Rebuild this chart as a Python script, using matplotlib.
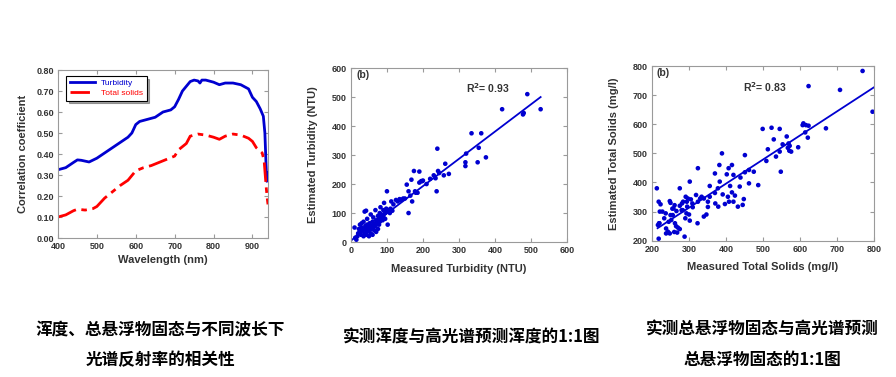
import matplotlib.pyplot as plt
import numpy as np

plt.rcParams['font.family'] = ['Liberation Sans', 'DejaVu Sans']

# correlation curves
wl_turb = [400, 420, 440, 450, 460, 480, 500, 520, 540, 560, 580, 590, 600, 610, 630, 650,
           670, 690, 700, 710, 720, 740, 750, 760, 765, 770, 780, 800, 815, 830, 850, 870,
           890, 900, 910, 920, 928, 932, 935, 937, 940]
r_turb = [0.325, 0.335, 0.36, 0.372, 0.37, 0.362, 0.38, 0.405, 0.43, 0.455, 0.48, 0.50,
          0.54, 0.555, 0.565, 0.575, 0.60, 0.61, 0.625, 0.66, 0.70, 0.745, 0.752, 0.748,
          0.738, 0.752, 0.752, 0.742, 0.73, 0.738, 0.738, 0.73, 0.71, 0.67, 0.65, 0.615,
          0.58, 0.50, 0.35, 0.27, 0.31]
wl_ts = [400, 420, 440, 450, 470, 490, 500, 520, 540, 560, 580, 600, 620, 640, 660, 680,
         700, 710, 730, 740, 760, 780, 800, 815, 830, 850, 870, 890, 900, 910, 925, 930,
         935, 938, 940]
r_ts = [0.10, 0.11, 0.13, 0.137, 0.133, 0.14, 0.15, 0.19, 0.22, 0.25, 0.275, 0.32, 0.335,
        0.345, 0.36, 0.375, 0.39, 0.42, 0.45, 0.485, 0.495, 0.49, 0.48, 0.47, 0.485, 0.495,
        0.49, 0.475, 0.46, 0.43, 0.405, 0.37, 0.25, 0.19, 0.16]

# turbidity scatter (measured, estimated)
turb_meas = [10, 12, 15, 18, 20, 22, 25, 25, 28, 30, 30, 32, 35, 35, 38, 38, 40, 40, 42, 42,
             45, 45, 45, 48, 50, 50, 52, 55, 55, 55, 58, 60, 60, 62, 62, 65, 65, 68, 68, 70,
             70, 72, 75, 75, 78, 78, 80, 80, 82, 85, 85, 88, 90, 90, 92, 95, 95, 98, 100, 100,
             102, 105, 108, 110, 112, 115, 118, 125, 130, 135, 140, 145, 150, 155, 160, 160,
             165, 168, 170, 175, 178, 180, 185, 190, 190, 195, 198, 200, 210, 220, 230, 235,
             238, 240, 242, 245, 258, 262, 272, 320, 318, 318, 335, 352, 355, 362, 375, 420,
             478, 480, 490, 527]
turb_est = [50, 15, 8, 20, 30, 45, 60, 35, 25, 50, 65, 40, 20, 70, 30, 105, 55, 45, 108, 25,
            35, 60, 80, 50, 40, 20, 65, 30, 55, 95, 45, 25, 70, 50, 85, 40, 60, 55, 110, 35,
            75, 65, 45, 90, 60, 80, 70, 100, 120, 85, 95, 75, 90, 110, 135, 80, 100, 115, 105, 175,
            60, 110, 100, 115, 140, 108, 130, 145, 140, 148, 145, 150, 150, 198, 100, 175,
            160, 215, 140, 245, 175, 170, 170, 205, 243, 210, 210, 212, 200, 218, 230, 220,
            175, 322, 245, 238, 230, 270, 235, 305, 275, 262, 375, 275, 325, 375, 292, 458,
            440, 445, 510, 458]
turb_fit_x = [0, 527]
turb_fit_y = [5, 500]

# total solids scatter (measured, estimated)
ts_meas = [769, 623, 708, 796, 670, 609, 616, 623, 607, 621, 614, 595, 569, 572, 567, 571,
           576, 564, 553, 545, 523, 499, 529, 545, 535, 548, 509, 513, 487, 475, 462, 451,
           451, 462, 448, 445, 437, 439, 420, 416, 407, 389, 402, 382, 370, 411, 416, 420,
           432, 424, 405, 408, 383, 391, 397, 379, 371, 378, 370, 356, 356, 351, 351, 347,
           340, 340, 330, 334, 324, 324, 323, 319, 309, 302, 295, 291, 297, 294, 305, 302,
           293, 290, 283, 288, 275, 284, 281, 275, 266, 260, 265, 270, 262, 275, 268, 258,
           261, 256, 250, 252, 248, 250, 237, 233, 238, 238, 243, 248, 216, 219, 221, 223,
           213, 218, 220, 218, 228, 245, 255, 300, 310, 280]
ts_est = [783, 731, 718, 643, 586, 603, 597, 595, 597, 554, 572, 521, 534, 526, 519, 509,
          506, 558, 531, 584, 588, 584, 548, 506, 489, 437, 474, 514, 391, 437, 443, 494,
          435, 397, 343, 323, 386, 417, 426, 460, 449, 500, 428, 460, 431, 388, 366, 334,
          317, 355, 351, 334, 403, 359, 326, 317, 328, 380, 364, 351, 388, 334, 316, 290,
          283, 345, 345, 351, 449, 334, 260, 357, 328, 403, 317, 351, 345, 334, 342, 269,
          294, 277, 305, 214, 380, 334, 328, 320, 302, 230, 250, 245, 260, 240, 228, 311,
          322, 288, 288, 271, 336, 330, 294, 277, 242, 225, 231, 225, 254, 260, 300, 325,
          380, 334, 260, 207, 300, 265, 310, 290, 315, 305]
ts_fit_x = [215, 800]
ts_fit_y = [243, 727]

spine_c = '#9a9a9a'
tick_c = '#333333'
blue = '#0000d0'


def style_axes(ax):
    for s in ax.spines.values():
        s.set_color(spine_c)
        s.set_linewidth(0.8)
    ax.tick_params(direction='in', length=3, color=spine_c, top=True, right=True,
                   labelsize=6.5, labelcolor=tick_c, pad=3)
    for lab in ax.get_xticklabels() + ax.get_yticklabels():
        lab.set_fontweight('bold')


fig = plt.figure(figsize=(8.96, 3.77), dpi=100)

# left: correlation curves
ax1 = fig.add_axes([0.0647, 0.3687, 0.2344, 0.4456])
ax1.plot(wl_turb, r_turb, color=blue, lw=2, label='Turbidity')
ax1.plot(wl_ts, r_ts, color='red', lw=2, dashes=(7, 2, 2, 2), label='Total solids')
ax1.set_xlim(400, 940)
ax1.set_ylim(0, 0.8)
ax1.set_xticks([400, 500, 600, 700, 800, 900])
ax1.set_yticks(np.arange(0, 0.81, 0.1))
ax1.set_yticklabels([f'{v:.2f}' for v in np.arange(0, 0.81, 0.1)])
ax1.set_xlabel('Wavelength (nm)', fontsize=8, fontweight='bold', color=tick_c, labelpad=3)
ax1.set_ylabel('Correlation coefficient', fontsize=8, fontweight='bold', color=tick_c, labelpad=6)
leg = ax1.legend(loc='upper left', fontsize=6, frameon=True, fancybox=False, shadow=True,
                 edgecolor='black', handlelength=3, borderpad=0.4, labelspacing=0.3,
                 bbox_to_anchor=(0.02, 0.99))
leg.get_frame().set_linewidth(0.8)
for t, c in zip(leg.get_texts(), [blue, 'red']):
    t.set_color(c)
style_axes(ax1)

# middle: turbidity
ax2 = fig.add_axes([0.3917, 0.358, 0.241, 0.4615])
ax2.scatter(turb_meas, turb_est, s=11, color=blue, edgecolors='none')
ax2.plot(turb_fit_x, turb_fit_y, color=blue, lw=1.3)
ax2.set_xlim(0, 600)
ax2.set_ylim(0, 600)
ax2.set_xticks(range(0, 601, 100))
ax2.set_yticks(range(0, 601, 100))
ax2.set_xlabel('Measured Turbidity (NTU)', fontsize=8, fontweight='bold', color=tick_c, labelpad=6)
ax2.set_ylabel('Estimated Turbidity (NTU)', fontsize=8, fontweight='bold', color=tick_c, labelpad=10)
ax2.text(15, 575, '(b)', fontsize=7.5, fontweight='bold', color=tick_c, va='center')
ax2.text(320, 530, 'R$^\\mathbf{2}$= 0.93', fontsize=7.5, fontweight='bold', color=tick_c, va='center')
style_axes(ax2)

# right: total solids
ax3 = fig.add_axes([0.7277, 0.3615, 0.2478, 0.4634])
ax3.scatter(ts_meas, ts_est, s=11, color=blue, edgecolors='none')
ax3.plot(ts_fit_x, ts_fit_y, color=blue, lw=1.3)
ax3.set_xlim(200, 800)
ax3.set_ylim(200, 800)
ax3.set_xticks(range(200, 801, 100))
ax3.set_yticks(range(200, 801, 100))
ax3.set_xlabel('Measured Total Solids (mg/l)', fontsize=8, fontweight='bold', color=tick_c, labelpad=6)
ax3.set_ylabel('Estimated Total Solids (mg/l)', fontsize=8, fontweight='bold', color=tick_c, labelpad=10)
ax3.text(212, 775, '(b)', fontsize=7.5, fontweight='bold', color=tick_c, va='center')
ax3.text(445, 727, 'R$^\\mathbf{2}$= 0.83', fontsize=7.5, fontweight='bold', color=tick_c, va='center')
style_axes(ax3)

# captions
cap = dict(fontsize=12, fontweight='bold', ha='center', va='center', color='black',
           family=['Noto Sans CJK SC', 'DejaVu Sans'])
fig.text(160 / 896, 1 - 330 / 377, '浑度、总悬浮物固态与不同波长下', **cap)
fig.text(160 / 896, 1 - 360 / 377, '光谱反射率的相关性', **cap)
fig.text(472 / 896, 1 - 338 / 377, '实测浑度与高光谱预测浑度的1:1图', **cap)
fig.text(762 / 896, 1 - 330 / 377, '实测总悬浮物固态与高光谱预测', **cap)
fig.text(762 / 896, 1 - 360 / 377, '总悬浮物固态的1:1图', **cap)

fig.savefig('out.png', dpi=100, facecolor='white')
